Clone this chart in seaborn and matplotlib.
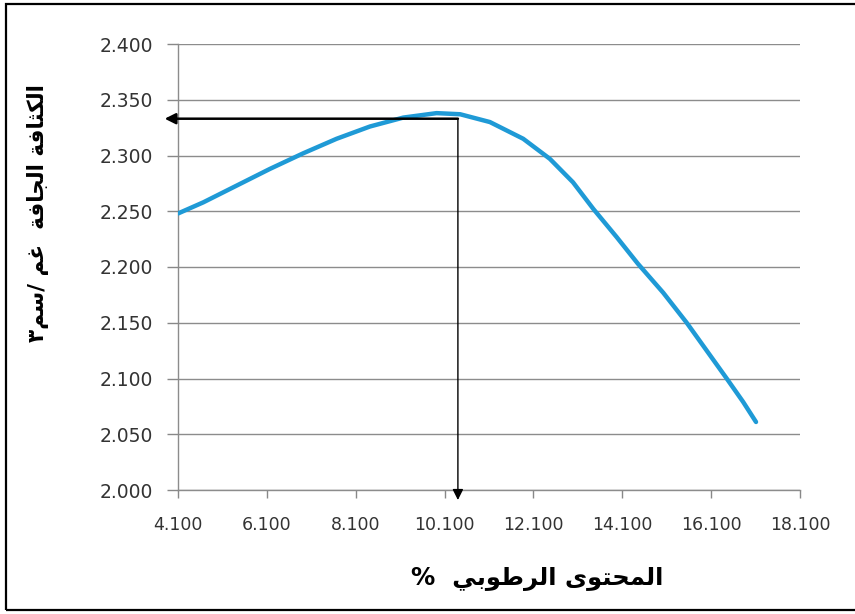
# -*- coding: utf-8 -*-
import matplotlib
matplotlib.use("Agg")
from matplotlib import pyplot as plt
from matplotlib.patches import Rectangle
import seaborn as sns
import pandas as pd

# compaction curve
moisture = [4.10, 4.67, 5.42, 6.17, 6.92, 7.67, 8.42, 9.17, 9.92, 10.45,
            11.12, 11.87, 12.47, 12.99, 13.45, 13.97, 14.45, 15.02, 15.55,
            16.00, 16.45, 16.82, 17.11]
density = [2.248, 2.258, 2.273, 2.288, 2.302, 2.315, 2.326, 2.334, 2.338, 2.337,
           2.330, 2.315, 2.297, 2.276, 2.252, 2.227, 2.203, 2.177, 2.150,
           2.125, 2.100, 2.079, 2.061]

x_ticks = [4.1, 6.1, 8.1, 10.1, 12.1, 14.1, 16.1, 18.1]
y_ticks = [2.000, 2.050, 2.100, 2.150, 2.200, 2.250, 2.300, 2.350, 2.400]

opt_moisture = 10.4
max_density = 2.333

x_label = "المحتوى الرطوبي  %"
y_label = "الكثافة الجافة  غم /سم٣"

# small arabic shaper: matplotlib has no complex text layout
FORMS = {
    'ا': (0xFE8D, 0xFE8E, None, None),
    'ب': (0xFE8F, 0xFE90, 0xFE91, 0xFE92),
    'ة': (0xFE93, 0xFE94, None, None),
    'ت': (0xFE95, 0xFE96, 0xFE97, 0xFE98),
    'ث': (0xFE99, 0xFE9A, 0xFE9B, 0xFE9C),
    'ج': (0xFE9D, 0xFE9E, 0xFE9F, 0xFEA0),
    'ح': (0xFEA1, 0xFEA2, 0xFEA3, 0xFEA4),
    'ر': (0xFEAD, 0xFEAE, None, None),
    'س': (0xFEB1, 0xFEB2, 0xFEB3, 0xFEB4),
    'ط': (0xFEC1, 0xFEC2, 0xFEC3, 0xFEC4),
    'غ': (0xFECD, 0xFECE, 0xFECF, 0xFED0),
    'ف': (0xFED1, 0xFED2, 0xFED3, 0xFED4),
    'ك': (0xFED9, 0xFEDA, 0xFEDB, 0xFEDC),
    'ل': (0xFEDD, 0xFEDE, 0xFEDF, 0xFEE0),
    'م': (0xFEE1, 0xFEE2, 0xFEE3, 0xFEE4),
    'و': (0xFEED, 0xFEEE, None, None),
    'ى': (0xFEEF, 0xFEF0, None, None),
    'ي': (0xFEF1, 0xFEF2, 0xFEF3, 0xFEF4),
}


def shape(s):
    out = []
    for i, ch in enumerate(s):
        if ch not in FORMS:
            out.append(ch)
            continue
        prev = s[i - 1] if i > 0 else ''
        nxt = s[i + 1] if i + 1 < len(s) else ''
        iso, fin, ini, med = FORMS[ch]
        join_prev = prev in FORMS and FORMS[prev][2] is not None
        join_next = nxt in FORMS and ini is not None
        if join_prev and join_next:
            c = med
        elif join_prev:
            c = fin
        elif join_next:
            c = ini
        else:
            c = iso
        out.append(chr(c))
    return ''.join(reversed(out))


sns.set_style("white")
plt.rcParams['font.family'] = ['DejaVu Sans']

df = pd.DataFrame({'moisture': moisture, 'density': density})

fig = plt.figure(figsize=(8.55, 6.14), dpi=100)
ax = fig.add_axes([178 / 855, 1 - 490 / 614, 622 / 855, 446 / 614])

sns.lineplot(data=df, x='moisture', y='density', ax=ax, sort=False,
             color='#1f9ad6', lw=3.2, solid_capstyle='round',
             solid_joinstyle='round', zorder=3)

ax.set_xlim(x_ticks[0], x_ticks[-1])
ax.set_ylim(y_ticks[0], y_ticks[-1])
ax.set_xticks(x_ticks)
ax.set_yticks(y_ticks)
ax.set_xticklabels(['%.3f' % v for v in x_ticks], fontsize=12.5, color='#333333')
ax.set_yticklabels(['%.3f' % v for v in y_ticks], fontsize=13.5, color='#333333')
ax.tick_params(axis='both', direction='out', width=1, color='#888888',
               left=True, bottom=True)
ax.tick_params(axis='y', length=8, pad=10)
ax.tick_params(axis='x', length=6, pad=13)

ax.grid(axis='y', color='#8c8c8c', lw=1)
ax.grid(axis='x', visible=False)
for side in ['top', 'right']:
    ax.spines[side].set_visible(False)
for side in ['left', 'bottom']:
    ax.spines[side].set_color('#8c8c8c')
    ax.spines[side].set_linewidth(1)

ax.set_xlabel(shape(x_label), fontsize=17.5, fontweight='bold', color='black', va='center')
ax.xaxis.set_label_coords(0.577, -0.20)
ax.set_ylabel(shape(y_label), fontsize=15.5, fontweight='bold', color='black', va='center')
ax.yaxis.set_label_coords(-0.225, 0.621)

# arrows from optimum point to the axes
ax.annotate('', xy=(x_ticks[0] - 0.3, max_density), xytext=(opt_moisture, max_density),
            arrowprops=dict(arrowstyle='-|>', color='black', lw=1.8,
                            shrinkA=0, shrinkB=0, mutation_scale=16),
            annotation_clip=False, zorder=4)
ax.annotate('', xy=(opt_moisture, y_ticks[0] - 0.009), xytext=(opt_moisture, max_density),
            arrowprops=dict(arrowstyle='-|>', color='black', lw=1.0,
                            shrinkA=0, shrinkB=0, mutation_scale=16),
            annotation_clip=False, zorder=4)

# outer frame, right edge lies outside the picture
fig.patches.append(Rectangle((6 / 855, 4 / 614), 1.05, 606 / 614, transform=fig.transFigure,
                             fill=False, edgecolor='black', lw=1.6))

fig.savefig('out.png', dpi=100)
